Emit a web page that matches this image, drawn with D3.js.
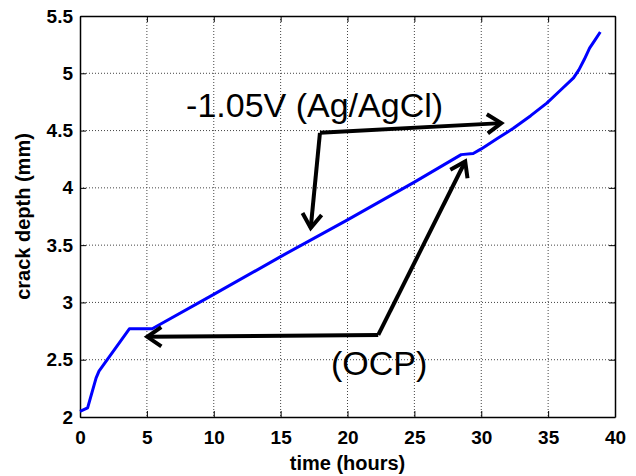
<!DOCTYPE html>
<html>
<head>
<meta charset="utf-8">
<script src="https://cdn.jsdelivr.net/npm/d3@7"></script>
<style>
  body { margin: 0; background: #fff; }
  .tick text { font-family: Arial, "Liberation Sans", sans-serif; font-weight: bold; }
</style>
</head>
<body>
<svg id="chart" width="636" height="476"></svg>
<script>
// data
const timeHours = [0, 0.57, 1.2, 1.42, 3.69, 5.4, 10, 15, 20, 25, 28.5, 29.4, 30.0, 31.2, 32.4, 33.7, 34.9, 35.9, 36.9, 37.3, 37.7, 38.1, 38.5, 38.9];
const crackDepth = [2.05, 2.08, 2.34, 2.40, 2.77, 2.77, 3.07, 3.40, 3.72, 4.05, 4.29, 4.30, 4.34, 4.43, 4.52, 4.63, 4.74, 4.85, 4.96, 5.03, 5.12, 5.22, 5.29, 5.36];
const xTicks = [0, 5, 10, 15, 20, 25, 30, 35, 40];
const yTicks = [2, 2.5, 3, 3.5, 4, 4.5, 5, 5.5];

// annotations, in data units: corner point, then arrow tips
const vLabel = { text: '-1.05V (Ag/AgCl)', t: 7.93, d: 4.62 };
const vArrow = { corner: [17.94, 4.48], tips: [[31.5, 4.565], [17.25, 3.65]] };
const ocpLabel = { text: '(OCP)', t: 18.77, d: 2.37 };
const ocpArrow = { corner: [22.3, 2.716], tips: [[5.03, 2.70], [28.8, 4.23]] };

const w = 636, h = 476;
const margins = { top: 16, right: 21, bottom: 59, left: 80 };
const width = w - margins.left - margins.right;
const height = h - margins.top - margins.bottom;

const svg = d3.select('#chart');
svg.append('rect').attr('width', w).attr('height', h).attr('fill', '#fff');

const x = d3.scaleLinear().domain([0, 40]).range([0, width]);
const y = d3.scaleLinear().domain([2, 5.5]).range([height, 0]);

const vis = svg.append('g')
  .attr('transform', `translate(${margins.left}, ${margins.top})`);

// grid
vis.append('g').selectAll('line')
  .data(xTicks.slice(1, -1))
  .enter().append('line')
  .attr('x1', d => x(d)).attr('x2', d => x(d))
  .attr('y1', 0).attr('y2', height)
  .attr('stroke', '#444').attr('stroke-width', 1).attr('stroke-dasharray', '1,2');
vis.append('g').selectAll('line')
  .data(yTicks.slice(1, -1))
  .enter().append('line')
  .attr('x1', 0).attr('x2', width)
  .attr('y1', d => y(d)).attr('y2', d => y(d))
  .attr('stroke', '#444').attr('stroke-width', 1).attr('stroke-dasharray', '1,2');

// axes (ticks point inward, box on all four sides)
const fmt = d3.format('');
const xAxis = d3.axisBottom(x).tickValues(xTicks).tickFormat(fmt).tickSizeInner(-6).tickSizeOuter(0).tickPadding(14);
const yAxis = d3.axisLeft(y).tickValues(yTicks).tickFormat(fmt).tickSizeInner(-6).tickSizeOuter(0).tickPadding(7);

const gx = vis.append('g').attr('transform', `translate(0, ${height})`).call(xAxis);
const gy = vis.append('g').call(yAxis);
vis.append('g').call(d3.axisTop(x).tickValues(xTicks).tickFormat('').tickSizeInner(-6).tickSizeOuter(0));
vis.append('g').attr('transform', `translate(${width}, 0)`)
  .call(d3.axisRight(y).tickValues(yTicks).tickFormat('').tickSizeInner(-6).tickSizeOuter(0));

vis.selectAll('.domain').attr('stroke', '#000').attr('stroke-width', 1.5);
vis.selectAll('.tick line').attr('stroke', '#000').attr('stroke-width', 1);
gx.selectAll('.tick text').style('font-size', '19px').attr('fill', '#000');
gy.selectAll('.tick text').style('font-size', '19px').attr('fill', '#000');

// axis titles
svg.append('text')
  .attr('x', margins.left + width / 2)
  .attr('y', 470)
  .attr('text-anchor', 'middle')
  .style('font-family', 'Arial, "Liberation Sans", sans-serif')
  .style('font-weight', 'bold')
  .style('font-size', '20px')
  .text('time (hours)');

svg.append('text')
  .attr('transform', `translate(30, ${margins.top + height / 2}) rotate(-90)`)
  .attr('text-anchor', 'middle')
  .style('font-family', 'Arial, "Liberation Sans", sans-serif')
  .style('font-weight', 'bold')
  .style('font-size', '20px')
  .text('crack depth (mm)');

// the series
const line = d3.line()
  .x((d, i) => x(timeHours[i]))
  .y(d => y(d));

vis.append('path')
  .datum(crackDepth)
  .attr('d', line)
  .attr('fill', 'none')
  .attr('stroke', '#0000ff')
  .attr('stroke-width', 3)
  .attr('stroke-linejoin', 'round');

// annotations
function drawArrow(a) {
  const cx = x(a.corner[0]), cy = y(a.corner[1]);
  a.tips.forEach(tip => {
    const tx = x(tip[0]), ty = y(tip[1]);
    vis.append('line')
      .attr('x1', cx).attr('y1', cy).attr('x2', tx).attr('y2', ty)
      .attr('stroke', '#000').attr('stroke-width', 4);
    const ang = Math.atan2(ty - cy, tx - cx);
    const len = 17, spread = 0.6;
    const p1 = [tx - len * Math.cos(ang - spread), ty - len * Math.sin(ang - spread)];
    const p2 = [tx - len * Math.cos(ang + spread), ty - len * Math.sin(ang + spread)];
    vis.append('path')
      .attr('d', `M${p1[0]},${p1[1]}L${tx},${ty}L${p2[0]},${p2[1]}`)
      .attr('fill', 'none')
      .attr('stroke', '#000')
      .attr('stroke-width', 4)
      .attr('stroke-linejoin', 'miter');
  });
}
drawArrow(vArrow);
drawArrow(ocpArrow);

[vLabel, ocpLabel].forEach(l => {
  vis.append('text')
    .attr('x', x(l.t))
    .attr('y', y(l.d))
    .style('font-family', 'Arial, "Liberation Sans", sans-serif')
    .style('font-size', '34px')
    .attr('fill', '#000')
    .text(l.text);
});
</script>
</body>
</html>
